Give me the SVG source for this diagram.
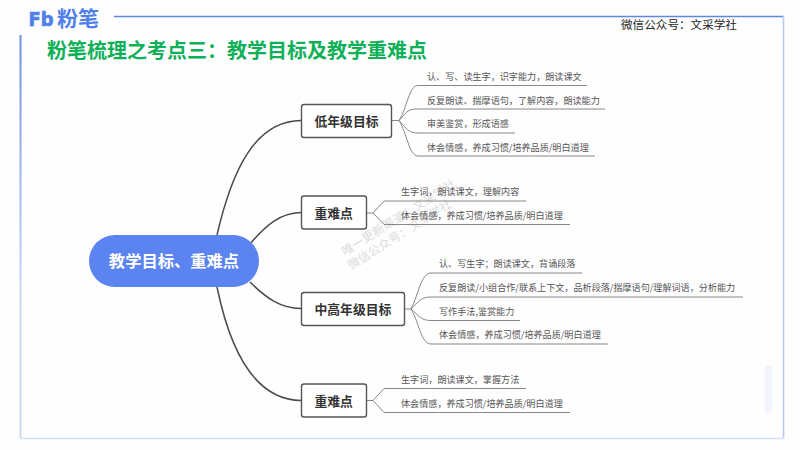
<svg xmlns="http://www.w3.org/2000/svg" width="800" height="450" viewBox="0 0 800 450">
<style>
text{font-family:"Noto Sans CJK SC","Noto Sans",sans-serif}
.sub{font-size:9.1px;fill:#555}
.nd rect{fill:#fff;stroke:#555;stroke-width:1.4}
.nd text{font-size:12.8px;font-weight:700;fill:#333}
.trunk{fill:none;stroke:#4a4a4a;stroke-width:1.5}
.br{fill:none;stroke:#7c7c7c;stroke-width:.9}
.wm{font-size:12px;fill:#dcdcdc}
</style>
<defs><linearGradient id="fade" gradientUnits="userSpaceOnUse" x1="0" y1="35" x2="0" y2="300"><stop offset="0" stop-color="#6f90e4"/><stop offset="1" stop-color="#ccd8f7"/></linearGradient></defs>
<rect width="800" height="450" fill="#fefefe"/>
<g id="frame" fill="none">
<path d="M114 16.5H783.5" stroke="#5f86e0" stroke-width="1.6"/>
<path d="M783.5 16V438" stroke="#b9c9f2" stroke-width="1.6"/>
<path d="M20.5 438.5H783.5" stroke="#d5def7" stroke-width="1.6"/>
<path d="M20.5 35V438" stroke="url(#fade)" stroke-width="2"/>
</g>
<rect x="765" y="365" width="7" height="48" rx="3" fill="#f1f4fc"/>
<g id="logo" fill="#4f80ea" font-weight="700">
<text x="28.500" y="26" font-size="20" stroke="#4f80ea" stroke-width=".7" style="font-family:'DejaVu Sans',sans-serif" textLength="25" lengthAdjust="spacingAndGlyphs">Fb</text>
<text x="57" y="25.500" font-size="21">粉笔</text>
</g>
<text id="account" x="621" y="29" font-size="11.6" fill="#222">微信公众号：文采学社</text>
<text id="title" x="47" y="58" font-size="20" font-weight="700" fill="#0eb058">粉笔梳理之考点三：教学目标及教学重难点</text>
<g id="watermark" class="wm">
<text transform="translate(345 256) rotate(-32)">唯一更新渠道：文采学社</text>
<text transform="translate(351 270) rotate(-32)">微信公众号：文采学社</text>
</g>
<g id="connectors">
<path class="trunk" d="M217 235C232 170 255 121 301 120.500"/>
<path class="trunk" d="M250 244C266 225 280 213 301 212.500"/>
<path class="trunk" d="M250 282C266 298 280 308 301 308.500"/>
<path class="trunk" d="M217 287C230 350 255 400 301 400.500"/>
<path class="br" d="M391 120.500H399C407 108 409 85.500 418 85.500H587"/>
<path class="br" d="M399 120.500C406 113 407 109 417 109H605"/>
<path class="br" d="M399 120.500C406 128 408 133 418 133H515"/>
<path class="br" d="M399 120.500C407 133 409 156 418 156H595"/>
<path class="br" d="M366 213H373L384 201H526"/>
<path class="br" d="M373 213L384 224.500H570"/>
<path class="br" d="M404 309H411C418 296 421 273 431 273H582"/>
<path class="br" d="M411 309C419 302 420 297 431 297H743"/>
<path class="br" d="M411 309C419 316 421 320.500 431 320.500H520"/>
<path class="br" d="M411 309C419 322 421 344 431 344H608"/>
<path class="br" d="M366 400.500H373L384 388.500H526"/>
<path class="br" d="M373 400.500L384 412.500H570"/>
</g>
<g id="center"><rect x="89" y="235" width="170" height="52" rx="26" fill="#5b84f0"/><text x="174" y="266.500" text-anchor="middle" font-size="16.300" font-weight="700" fill="#fff">教学目标、重难点</text></g>
<g id="n1" class="nd"><rect x="301.500" y="104.500" width="90" height="33" rx="2.500"/><text x="314.500" y="126">低年级目标</text></g>
<g id="n2" class="nd"><rect x="301.500" y="196" width="65" height="33" rx="2.500"/><text x="314.500" y="218">重难点</text></g>
<g id="n3" class="nd"><rect x="301.500" y="292.500" width="103" height="33" rx="2.500"/><text x="314.500" y="314">中高年级目标</text></g>
<g id="n4" class="nd"><rect x="301.500" y="384" width="65" height="33" rx="2.500"/><text x="314.500" y="406">重难点</text></g>
<g id="leaves" class="sub">
<text x="427" y="80">认、写、读生字，识字能力，朗读课文</text>
<text x="427" y="103.500">反复朗读、揣摩语句，了解内容，朗读能力</text>
<text x="427" y="127">审美鉴赏，形成语感</text>
<text x="427" y="150.500">体会情感，养成习惯/培养品质/明白道理</text>
<text x="401" y="195">生字词，朗读课文，理解内容</text>
<text x="401" y="219">体会情感，养成习惯/培养品质/明白道理</text>
<text x="439" y="267">认、写生字；朗读课文，背诵段落</text>
<text x="439" y="291">反复朗读/小组合作/联系上下文，品析段落/揣摩语句/理解词语，分析能力</text>
<text x="439" y="314.500">写作手法,鉴赏能力</text>
<text x="439" y="338">体会情感，养成习惯/培养品质/明白道理</text>
<text x="401" y="383">生字词，朗读课文，掌握方法</text>
<text x="401" y="406.500">体会情感，养成习惯/培养品质/明白道理</text>
</g>
</svg>
